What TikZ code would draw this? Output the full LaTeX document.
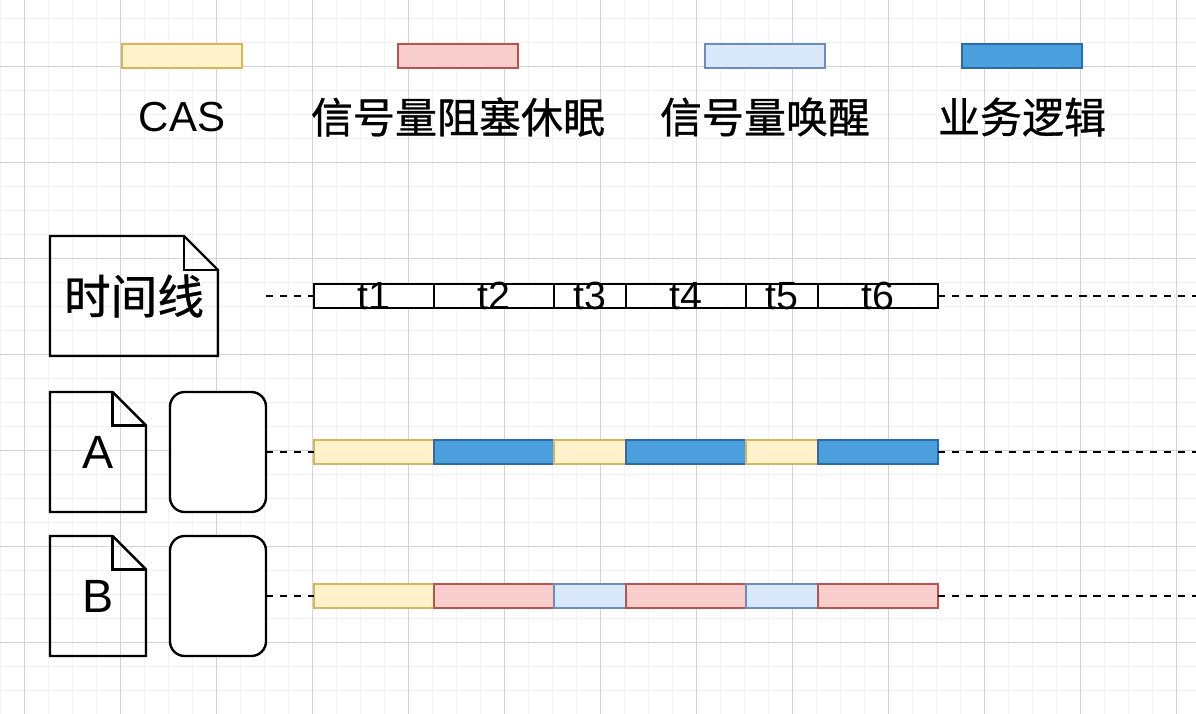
\documentclass[tikz,border=0pt]{standalone}
\usepackage{fontspec}
\setmainfont{Liberation Sans}
\newfontfamily\cjk[FakeBold=0.8]{Noto Sans CJK SC}
\usetikzlibrary{positioning}
\definecolor{casfill}{HTML}{FFF2CC}
\definecolor{casdraw}{HTML}{D6B656}
\definecolor{semfill}{HTML}{F8CECC}
\definecolor{semdraw}{HTML}{B85450}
\definecolor{wakefill}{HTML}{DAE8FC}
\definecolor{wakedraw}{HTML}{6C8EBF}
\definecolor{bizfill}{HTML}{4A9FDC}
\definecolor{bizdraw}{HTML}{2B6CA8}
\definecolor{gridminor}{HTML}{F2F2F2}
\definecolor{gridmajor}{HTML}{D3D3D3}

\begin{document}
\begin{tikzpicture}[x=0.75pt,y=-0.75pt,line width=1.8pt,
  seg/.style={draw, minimum height=18pt, inner sep=0pt, outer sep=0pt},
  long/.style={seg, minimum width=90pt},
  short/.style={seg, minimum width=54pt},
  cas/.style={fill=casfill, draw=casdraw},
  sem/.style={fill=semfill, draw=semdraw},
  wake/.style={fill=wakefill, draw=wakedraw},
  biz/.style={fill=bizfill, draw=bizdraw},
  tick/.style={fill=white, draw=black,
    label={[font=\fontsize{29.5}{30}\selectfont, inner sep=0pt]center:#1}},
  legtext/.style={font=\fontsize{31.5}{32}\selectfont, inner sep=0pt},
  docbox/.style={inner sep=0pt, outer sep=0pt},
  roundbox/.style={draw, fill=white, rounded corners=11pt, minimum width=72pt,
    minimum height=90pt, inner sep=0pt, outer sep=0pt},
  dashline/.style={dash pattern=on 5.4pt off 5.2pt}]
  \useasboundingbox (0,0) rectangle (1196,714);
  \fill[white] (0,0) rectangle (1196,714);
  % background grid
  \foreach \k in {0,...,49} {\draw[gridminor, line width=0.75pt] (0.3+24*\k,0) -- (0.3+24*\k,714);}
  \foreach \k in {0,...,29} {\draw[gridminor, line width=0.75pt] (0,18.5+24*\k) -- (1196,18.5+24*\k);}
  \foreach \k in {0,...,12} {\draw[gridmajor, line width=0.75pt] (24.3+96*\k,0) -- (24.3+96*\k,714);}
  \foreach \k in {0,...,6} {\draw[gridmajor, line width=0.75pt] (0,66.5+96*\k) -- (1196,66.5+96*\k);}

  % legend
  \node[long, cas] (lcas) at (182,56) {};
  \node[long, sem] (lsem) at (458,56) {};
  \node[long, wake] (lwake) at (765,56) {};
  \node[long, biz] (lbiz) at (1022,56) {};
  \node[legtext] (tcas) at (182,117) {CAS};
  \node[legtext] (tsem) at (458,117) {\cjk 信号量阻塞休眠};
  \node[legtext] (twake) at (765,117) {\cjk 信号量唤醒};
  \node[legtext] (tbiz) at (1022,117) {\cjk 业务逻辑};

  % time line
  \node[docbox, minimum width=126pt, minimum height=90pt, font=\fontsize{35}{35}\selectfont] (tline) at (134,296) {\cjk 时间线};
  \draw (tline.north west) -- ([xshift=-25.5pt]tline.north east) -- ([yshift=-25.5pt]tline.north east)
    -- (tline.south east) -- (tline.south west) -- cycle;
  \draw ([xshift=-25.5pt]tline.north east) |- ([yshift=-25.5pt]tline.north east);
  \node[long, tick=t1] (t1) at (374,296) {};
  \node[long, tick=t2, right=0pt of t1] (t2) {};
  \node[short, tick=t3, right=0pt of t2] (t3) {};
  \node[long, tick=t4, right=0pt of t3] (t4) {};
  \node[short, tick=t5, right=0pt of t4] (t5) {};
  \node[long, tick=t6, right=0pt of t5] (t6) {};
  \coordinate (tbeg) at (266,296);
  \coordinate (tend) at (1200,296);
  \draw[dashline] (tbeg) -- (t1);
  \draw[dashline] (t6) -- (tend);

  % thread A
  \node[docbox, minimum width=72pt, minimum height=90pt, font=\fontsize{35}{35}\selectfont] (docA) at (98,452) {A};
  \draw (docA.north west) -- ([xshift=-25pt]docA.north east) -- ([yshift=-25pt]docA.north east)
    -- (docA.south east) -- (docA.south west) -- cycle;
  \draw ([xshift=-25pt]docA.north east) |- ([yshift=-25pt]docA.north east);
  \node[roundbox] (boxA) at (218,452) {};
  \node[long, cas] (a1) at (374,452) {};
  \node[long, biz, right=0pt of a1] (a2) {};
  \node[short, cas, right=0pt of a2] (a3) {};
  \node[long, biz, right=0pt of a3] (a4) {};
  \node[short, cas, right=0pt of a4] (a5) {};
  \node[long, biz, right=0pt of a5] (a6) {};
  \coordinate (aend) at (1200,452);
  \draw[dashline] (boxA) -- (a1);
  \draw[dashline] (a6) -- (aend);

  % thread B
  \node[docbox, minimum width=72pt, minimum height=90pt, font=\fontsize{35}{35}\selectfont] (docB) at (98,596) {B};
  \draw (docB.north west) -- ([xshift=-25pt]docB.north east) -- ([yshift=-25pt]docB.north east)
    -- (docB.south east) -- (docB.south west) -- cycle;
  \draw ([xshift=-25pt]docB.north east) |- ([yshift=-25pt]docB.north east);
  \node[roundbox] (boxB) at (218,596) {};
  \node[long, cas] (b1) at (374,596) {};
  \node[long, sem, right=0pt of b1] (b2) {};
  \node[short, wake, right=0pt of b2] (b3) {};
  \node[long, sem, right=0pt of b3] (b4) {};
  \node[short, wake, right=0pt of b4] (b5) {};
  \node[long, sem, right=0pt of b5] (b6) {};
  \coordinate (bend) at (1200,596);
  \draw[dashline] (boxB) -- (b1);
  \draw[dashline] (b6) -- (bend);
\end{tikzpicture}
\end{document}
